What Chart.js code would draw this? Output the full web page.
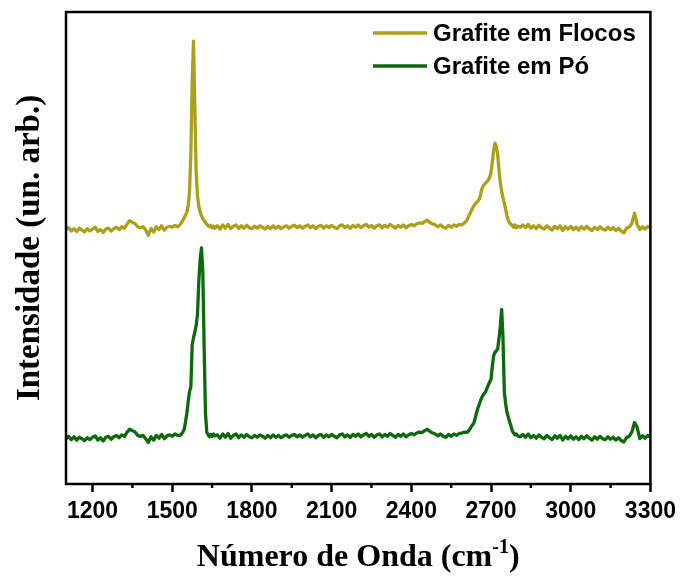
<!DOCTYPE html>
<html>
<head>
<meta charset="utf-8">
<script src="https://cdn.jsdelivr.net/npm/chart.js@4.4.1/dist/chart.umd.min.js"></script>
<style>
  html, body { margin: 0; padding: 0; background: #fff; }
  #wrap { width: 682px; height: 577px; }
</style>
</head>
<body>
<div id="wrap"><canvas id="chart" width="682" height="577"></canvas></div>
<script>
// Raman spectra (wavenumber in cm-1, intensity in arbitrary units)
const seriesNames = ["Grafite em Flocos", "Grafite em Pó"];
const seriesColors = ["#aca01b", "#0b6a0b"];
const xTicks = [1200, 1500, 1800, 2100, 2400, 2700, 3000, 3300];
const xMinorTicks = [1350, 1650, 1950, 2250, 2550, 2850, 3150];

const waveNumbers = [
  1100,1110,1120,1130,1140,1150,1160,1170,1180,1190,
  1200,1210,1220,1230,1240,1250,1260,1270,1280,1290,
  1300,1310,1320,1330,1340,1350,1360,1370,1380,1390,
  1400,1410,1420,1430,1440,1450,1460,1470,1480,1490,
  1500,1510,1520,1530,
  1535,1540,1545,1550,1555,1560,1565,1570,1575,1580,
  1585,1590,1595,1600,1605,1610,1615,1620,1625,1630,
  1635,1640,1645,1650,1655,1660,
  1670,1680,1690,1700,1710,1720,1730,1740,1750,1760,
  1770,1780,1790,1800,1810,1820,1830,1840,1850,1860,
  1870,1880,1890,1900,1910,1920,1930,1940,1950,1960,
  1970,1980,1990,2000,2010,2020,2030,2040,2050,2060,
  2070,2080,2090,2100,2110,2120,2130,2140,2150,2160,
  2170,2180,2190,2200,2210,2220,2230,2240,2250,2260,
  2270,2280,2290,2300,2310,2320,2330,2340,2350,2360,
  2370,2380,2390,2400,2410,2420,2430,2440,2450,2460,
  2470,2480,2490,2500,2510,2520,2530,2540,2550,2560,
  2570,2580,2590,2600,
  2605,2610,2615,2620,2625,2630,2635,2640,2645,2650,
  2655,2660,2665,2670,2675,2680,2685,2690,2695,2700,
  2705,2710,2715,2720,2725,2730,2735,2740,2745,2750,
  2755,2760,2765,2770,2775,2780,2785,2790,2795,2800,
  2810,2820,2830,2840,2850,2860,2870,2880,2890,2900,
  2910,2920,2930,2940,2950,2960,2970,2980,2990,3000,
  3010,3020,3030,3040,3050,3060,3070,3080,3090,3100,
  3110,3120,3130,3140,3150,3160,3170,3180,3190,3200,
  3210,3220,3230,3240,3250,3260,3270,3280,3290,3300
];

const flocos = [
  53.9,54.3,53.6,54.1,53.5,54.2,53.8,53.4,54.1,53.6,
  54.0,54.4,53.5,53.9,53.3,54.0,54.2,53.6,54.1,54.4,
  53.9,54.5,54.2,55.1,55.8,55.4,55.2,54.5,54.3,54.5,
  53.8,52.7,54.1,53.4,54.5,53.9,54.7,53.8,54.4,54.6,
  54.4,54.8,54.5,55.0,
  55.4,55.9,56.4,57.0,57.6,59.0,62.0,70.0,85.0,93.8,
  80.0,66.0,61.0,58.8,57.6,56.8,56.2,55.8,55.4,55.0,
  54.7,54.5,54.8,54.3,54.6,54.2,
  54.7,54.0,54.9,54.2,55.0,54.1,54.6,54.9,54.1,54.7,
  54.2,54.8,54.3,54.1,54.6,54.2,54.7,54.4,54.0,54.6,
  54.1,54.7,54.2,54.6,54.1,54.5,54.7,54.2,54.6,54.8,
  54.3,54.7,54.2,54.6,54.9,54.3,54.7,54.1,54.6,54.8,
  54.2,54.7,54.3,54.8,54.4,54.1,54.7,54.9,54.3,54.7,
  54.2,54.8,54.4,54.9,54.3,54.7,55.0,54.4,54.8,54.2,
  54.7,54.9,54.3,54.8,54.4,55.0,54.6,54.2,54.8,54.4,
  54.9,54.3,54.7,55.0,54.7,55.1,55.3,55.2,55.6,55.9,
  55.4,55.1,54.9,54.5,54.9,54.4,54.2,54.8,54.4,54.9,
  54.6,55.0,54.9,55.3,
  55.6,56.0,56.6,57.2,57.8,58.4,58.9,59.3,59.6,59.9,
  60.3,61.2,62.4,63.1,63.5,63.8,64.1,64.4,65.0,66.0,
  68.2,70.8,72.2,71.5,69.8,66.5,63.8,62.0,60.6,59.5,
  58.2,56.8,55.9,55.3,55.0,54.8,54.4,54.9,54.3,54.6,
  54.4,54.9,54.3,55.0,54.2,54.7,54.1,54.8,54.3,54.0,
  54.7,54.2,53.8,54.6,54.1,54.7,53.7,54.5,54.0,54.6,
  53.9,54.4,53.8,54.5,54.0,54.6,54.1,53.7,54.4,53.9,
  54.5,54.0,53.8,54.4,53.9,54.3,53.7,54.2,53.6,53.2,
  54.2,54.4,55.2,57.4,55.0,53.9,54.5,54.0,54.6,54.2
];

const po = [
  9.6,10.1,9.4,10.0,9.3,9.9,9.6,9.2,9.8,9.4,
  9.9,10.2,9.3,9.8,9.1,9.9,10.1,9.5,10.0,10.3,
  9.8,10.4,10.1,11.0,11.6,11.3,11.0,10.3,10.1,10.3,
  9.6,8.8,10.0,9.3,10.3,9.7,10.5,9.6,10.2,10.4,
  10.1,10.6,10.3,10.3,
  10.6,11.0,11.6,13.2,15.0,17.5,19.6,20.6,29.5,31.0,
  32.2,33.6,36.0,43.0,47.5,50.0,45.0,29.0,15.0,11.0,
  10.4,10.0,10.5,10.1,10.6,10.2,
  10.4,9.7,10.6,9.9,10.7,9.7,10.3,10.6,9.8,10.4,
  9.9,10.5,10.0,9.8,10.3,9.9,10.4,10.1,9.7,10.3,
  9.8,10.4,9.9,10.3,9.8,10.2,10.4,9.9,10.3,10.5,
  10.0,10.4,9.9,10.3,10.6,10.0,10.4,9.8,10.3,10.5,
  9.9,10.4,10.0,10.5,10.1,9.8,10.4,10.6,10.0,10.4,
  9.9,10.5,10.1,10.6,10.0,10.4,10.7,10.1,10.5,9.9,
  10.4,10.6,10.0,10.5,10.1,10.7,10.3,9.9,10.5,10.1,
  10.6,10.0,10.4,10.7,10.4,10.8,11.0,10.9,11.3,11.6,
  11.1,10.8,10.6,10.2,10.6,10.1,9.9,10.5,10.1,10.6,
  10.3,10.7,10.8,11.0,
  10.9,11.0,11.2,11.6,12.1,12.5,12.9,13.8,15.0,16.0,
  16.8,17.6,18.3,18.8,19.2,19.6,20.3,21.0,21.6,22.2,
  25.0,27.2,27.9,28.2,28.6,30.8,33.5,37.0,31.0,19.5,
  17.0,15.2,14.2,13.2,12.3,11.2,10.8,10.4,10.6,10.2,
  10.0,10.5,9.9,10.6,9.8,10.3,9.7,10.4,9.9,9.6,
  10.3,9.8,9.4,10.2,9.7,10.3,9.3,10.1,9.6,10.2,
  9.5,10.0,9.4,10.1,9.6,10.2,9.7,9.3,10.0,9.5,
  10.1,9.6,9.4,10.0,9.5,9.9,9.3,9.8,9.2,8.9,
  9.8,10.1,11.0,13.0,12.0,9.6,10.2,9.7,10.3,9.9
];

const seriesValues = [flocos, po];

function toPoints(values) {
  return waveNumbers.map((x, i) => ({ x: x, y: values[i] }));
}

// box, minor ticks, axis titles and legend
const framePlugin = {
  id: "frame",
  afterDraw(chart) {
    const c = chart.ctx;
    const a = chart.chartArea;
    const xs = chart.scales.x;
    c.save();

    c.strokeStyle = "#000";
    c.lineWidth = 2.5;
    c.strokeRect(a.left, a.top, a.right - a.left, a.bottom - a.top);

    xMinorTicks.forEach(v => {
      const px = xs.getPixelForValue(v);
      c.beginPath();
      c.moveTo(px, a.bottom);
      c.lineTo(px, a.bottom + 4);
      c.stroke();
    });

    // x title with superscript
    c.fillStyle = "#000";
    c.textBaseline = "alphabetic";
    const main = "Número de Onda (cm";
    c.font = "bold 20px 'Liberation Serif'";
    const supW = c.measureText("-1").width;
    c.font = "bold 32px 'Liberation Serif'";
    const mainW = c.measureText(main).width;
    const closeW = c.measureText(")").width;
    const total = mainW + supW + closeW;
    const tx = (a.left + a.right) / 2 - total / 2;
    const ty = 566;
    c.textAlign = "left";
    c.fillText(main, tx, ty);
    c.font = "bold 20px 'Liberation Serif'";
    c.fillText("-1", tx + mainW, ty - 13);
    c.font = "bold 32px 'Liberation Serif'";
    c.fillText(")", tx + mainW + supW, ty);

    // y title
    c.save();
    c.translate(39, (a.top + a.bottom) / 2);
    c.rotate(-Math.PI / 2);
    c.textAlign = "center";
    c.font = "bold 33px 'Liberation Serif'";
    c.fillText("Intensidade (un. arb.)", 0, 0);
    c.restore();

    // legend
    c.font = "bold 24px 'Liberation Sans'";
    c.textBaseline = "middle";
    c.textAlign = "left";
    const rows = [33, 66];
    chart.data.datasets.forEach((ds, i) => {
      c.strokeStyle = ds.borderColor;
      c.lineWidth = 3.5;
      c.beginPath();
      c.moveTo(373, rows[i]);
      c.lineTo(427, rows[i]);
      c.stroke();
      c.fillStyle = "#000";
      c.fillText(ds.label, 433, rows[i] + 1);
    });

    c.restore();
  }
};

new Chart(document.getElementById("chart"), {
  type: "line",
  data: {
    datasets: seriesNames.map((name, i) => ({
      label: name,
      data: toPoints(seriesValues[i]),
      borderColor: seriesColors[i],
      borderWidth: 3.3,
      pointRadius: 0,
      tension: 0,
      borderJoinStyle: "round"
    }))
  },
  options: {
    responsive: false,
    animation: false,
    events: [],
    layout: { padding: { top: 12, right: 31, bottom: 0, left: 0 } },
    plugins: {
      legend: { display: false },
      tooltip: { enabled: false }
    },
    scales: {
      x: {
        type: "linear",
        min: 1100,
        max: 3300,
        afterBuildTicks: s => { s.ticks = xTicks.map(v => ({ value: v })); },
        afterFit: s => { s.height = 93; },
        ticks: {
          color: "#000",
          padding: 6,
          maxRotation: 0,
          callback: v => String(v),
          font: { family: "Liberation Sans", weight: "bold", size: 23 }
        },
        grid: {
          drawOnChartArea: false,
          tickLength: 8,
          tickColor: "#000",
          tickWidth: 2.5
        },
        border: { display: false }
      },
      y: {
        min: 0,
        max: 100,
        afterFit: s => { s.width = 66; },
        ticks: { display: false },
        grid: { display: false },
        border: { display: false }
      }
    }
  },
  plugins: [framePlugin]
});
</script>
</body>
</html>
